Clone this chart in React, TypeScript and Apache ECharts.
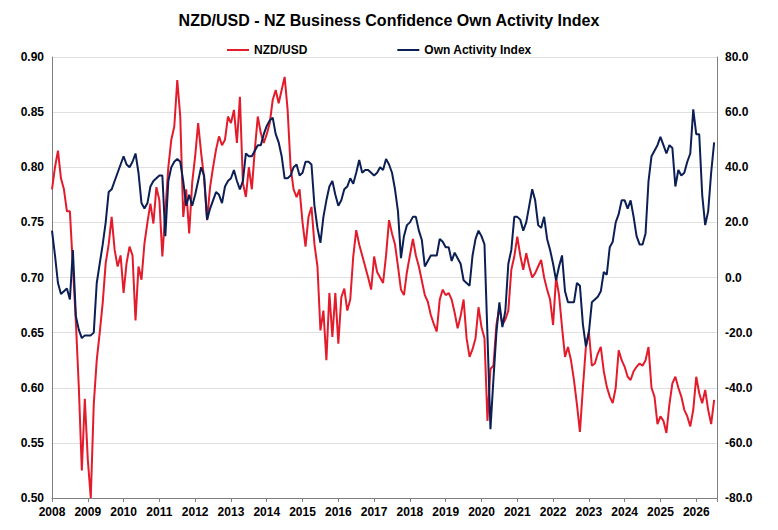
import { useEffect, useRef } from 'react';
import * as echarts from 'echarts';

// monthly values, Jan 2008 onwards
const nzdUsd = [
  0.78, 0.8, 0.815, 0.79, 0.78, 0.76, 0.76, 0.71, 0.66, 0.6, 0.525, 0.59,
  0.535, 0.5, 0.585, 0.625, 0.65, 0.677, 0.713, 0.73, 0.755, 0.725, 0.71, 0.72,
  0.686, 0.713, 0.728, 0.72, 0.661, 0.71, 0.698, 0.731, 0.75, 0.767, 0.749, 0.782,
  0.77, 0.719, 0.76, 0.8, 0.825, 0.837, 0.879, 0.846, 0.755, 0.78, 0.74, 0.786,
  0.81, 0.84, 0.813, 0.79, 0.752, 0.782, 0.8, 0.816, 0.828, 0.82, 0.825, 0.846,
  0.84, 0.852, 0.822, 0.864, 0.786, 0.773, 0.8, 0.78, 0.816, 0.846, 0.831, 0.822,
  0.83, 0.84, 0.861, 0.87, 0.858, 0.87, 0.882, 0.852, 0.8, 0.78, 0.773, 0.78,
  0.75, 0.728, 0.755, 0.764, 0.73, 0.71, 0.652, 0.67, 0.625, 0.686, 0.646, 0.686,
  0.64, 0.682, 0.69, 0.67, 0.68, 0.719, 0.743, 0.73, 0.72, 0.71, 0.7, 0.689,
  0.719, 0.705, 0.7, 0.695, 0.72, 0.752, 0.74, 0.73, 0.71, 0.689, 0.684, 0.705,
  0.72, 0.735, 0.72, 0.71, 0.697, 0.684, 0.678, 0.666, 0.658, 0.651, 0.68, 0.689,
  0.684, 0.686, 0.68, 0.668, 0.654, 0.665, 0.68, 0.645, 0.628, 0.635, 0.645, 0.673,
  0.655, 0.645, 0.57, 0.617, 0.62, 0.657, 0.673, 0.657, 0.662, 0.67, 0.707, 0.719,
  0.737, 0.72, 0.707, 0.722, 0.71, 0.7, 0.704, 0.71, 0.716, 0.7, 0.689, 0.68,
  0.657, 0.7, 0.684, 0.655, 0.628, 0.637, 0.625, 0.607, 0.585, 0.56, 0.6, 0.637,
  0.651, 0.62, 0.622, 0.631, 0.637, 0.615, 0.601, 0.592, 0.586, 0.6, 0.634, 0.625,
  0.619, 0.61, 0.607, 0.615, 0.619, 0.622, 0.62, 0.625, 0.637, 0.6, 0.592, 0.567,
  0.574, 0.57, 0.559, 0.585, 0.604, 0.61, 0.6, 0.592, 0.58, 0.574, 0.565, 0.58,
  0.61, 0.595, 0.586, 0.598, 0.58, 0.567, 0.589,
];

const ownActivity = [
  17, 8, -2, -6, -5, -4, -8, 10, -14, -19, -22, -21,
  -21, -21, -20, -2, 5, 12, 20, 31, 32, 35, 38, 41,
  44, 41, 40, 42, 45, 38, 27, 25, 27, 33, 35, 36,
  37, 37, 15, 35, 40, 42, 43, 42, 35, 26, 30, 26,
  30, 35, 40, 37, 21, 25, 28, 31, 30, 27, 33, 35,
  36, 39, 35, 32, 35, 45, 44, 44, 46, 48, 48, 52,
  55, 57, 58, 52, 49, 44, 36, 36, 37, 40, 41, 37,
  38, 42, 42, 41, 26, 18, 12.6, 22, 28, 33, 35, 30,
  26, 28, 32, 33, 36, 34, 38, 42.6, 38, 39, 39, 38,
  37, 38, 40, 39, 43, 41, 38, 32, 24, 7, 15, 19,
  20, 22, 22, 17, 13.6, 4, 6, 8, 8, 8, 14, 13,
  11, 11, 6, 9, 7, 5, -1, -2, -3, 8, 14, 17,
  15, 12, -21, -55, -37, -20, -9, -18, -12, 5, 10, 22,
  22, 21, 17, 20, 26, 32, 28, 19, 18, 22, 14, 10,
  5, -1, 4, 8, -5, -9, -9, -9, -2, -3, -17, -25,
  -20, -9, -8, -7, -5, 2, 1, 11, 13, 20, 23, 28,
  28, 25, 28, 22, 15, 12, 12, 16, 35, 44, 46, 48,
  51, 48, 45, 48, 47, 33, 39, 37, 38, 42, 45, 61,
  52, 52, 30, 19, 24, 38, 49,
];

const startYear = 2008;

const toPoints = (vals: number[]) => vals.map((v, i) => [startYear + i / 12, v]);

const FONT = 'Liberation Sans';
const axisLabel = { color: '#000', fontSize: 12, fontWeight: 'bold' as const, fontFamily: FONT };

export default function App() {
  const chartRef = useRef<HTMLDivElement>(null);

  useEffect(() => {
    if (!chartRef.current) return;
    const chart = echarts.init(chartRef.current, null, { renderer: 'svg' });

    chart.setOption({
      animation: false,
      backgroundColor: '#fff',
      title: {
        text: 'NZD/USD - NZ Business Confidence Own Activity Index',
        left: 'center',
        top: -1,
        textStyle: { fontFamily: FONT, fontSize: 16, fontWeight: 'bold', color: '#000' },
      },
      legend: {
        top: 31,
        left: 214,
        itemGap: 90,
        itemWidth: 22,
        itemHeight: 2,
        icon: 'rect',
        textStyle: { fontFamily: FONT, fontSize: 12, fontWeight: 'bold', color: '#000' },
        data: ['NZD/USD', 'Own Activity Index'],
      },
      grid: { left: 44, right: 53, top: 49, bottom: 24 },
      xAxis: {
        type: 'value',
        min: 2008,
        max: 2026.58,
        interval: 1,
        splitLine: { show: false },
        axisLine: { onZero: false, lineStyle: { color: '#808080' } },
        axisTick: { show: true, length: 4, lineStyle: { color: '#808080' } },
        axisLabel: {
          ...axisLabel,
          margin: 8,
          formatter: (v: number) => (Number.isInteger(v) ? String(v) : ''),
        },
      },
      yAxis: [
        {
          type: 'value',
          min: 0.5,
          max: 0.9,
          interval: 0.05,
          axisLine: { show: true, lineStyle: { color: '#808080' } },
          axisTick: { show: false },
          splitLine: { lineStyle: { color: '#e0e0e0' } },
          axisLabel: { ...axisLabel, formatter: (v: number) => v.toFixed(2) },
        },
        {
          type: 'value',
          min: -80,
          max: 80,
          interval: 20,
          axisLine: { show: true, lineStyle: { color: '#808080' } },
          axisTick: { show: false },
          splitLine: { show: false },
          axisLabel: { ...axisLabel, formatter: (v: number) => v.toFixed(1) },
        },
      ],
      series: [
        {
          name: 'NZD/USD',
          type: 'line',
          yAxisIndex: 0,
          data: toPoints(nzdUsd),
          showSymbol: false,
          color: '#e31b2b',
          lineStyle: { width: 2, color: '#e31b2b' },
          z: 2,
        },
        {
          name: 'Own Activity Index',
          type: 'line',
          yAxisIndex: 1,
          data: toPoints(ownActivity),
          showSymbol: false,
          color: '#0c1f55',
          lineStyle: { width: 2, color: '#0c1f55' },
          z: 3,
        },
      ],
    });

    return () => chart.dispose();
  }, []);

  return <div ref={chartRef} style={{ width: 762, height: 514 }} />;
}
